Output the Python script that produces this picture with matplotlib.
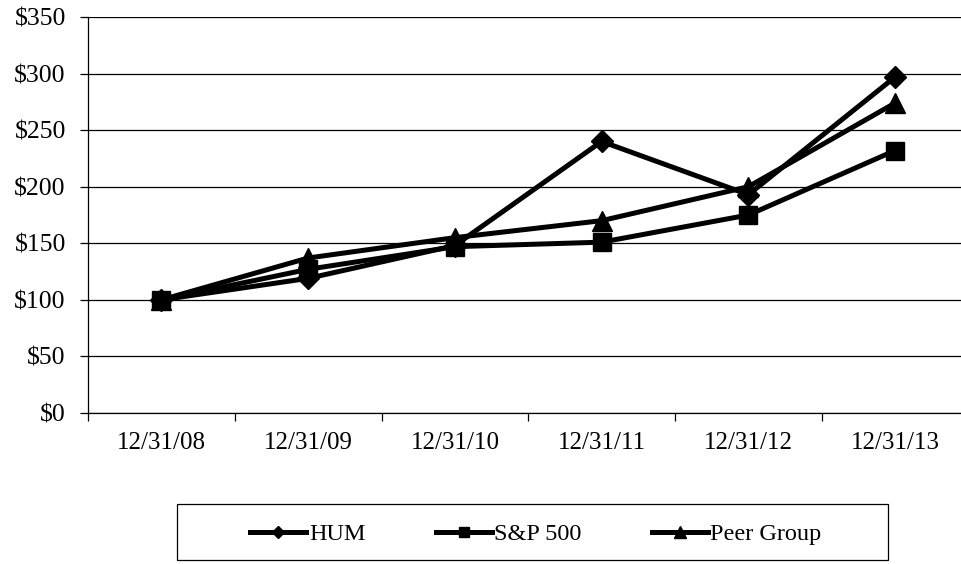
import matplotlib.pyplot as plt
import matplotlib.ticker as mticker
from matplotlib.patches import Rectangle

plt.rcParams["font.family"] = ["Liberation Serif", "DejaVu Serif"]

dates = ["12/31/08", "12/31/09", "12/31/10", "12/31/11", "12/31/12", "12/31/13"]
hum = [100, 119, 148, 240, 193, 297]
sp500 = [100, 127, 147, 151, 175, 232]
peer = [100, 137, 155, 170, 200, 274]

# name, values, marker, marker size, zorder (S&P sits on top at 12/31/08)
series = [
    ("HUM", hum, "D", 11, 3),
    ("S&P 500", sp500, "s", 13, 4),
    ("Peer Group", peer, "^", 14, 2),
]

fig = plt.figure(figsize=(9.61, 5.64), dpi=100)
ax = fig.add_axes([88 / 961, 151 / 564, 880.5 / 961, 396 / 564])

x = list(range(len(dates)))
for name, vals, mk, ms, z in series:
    ax.plot(x, vals, color="black", linewidth=3.6, marker=mk, markersize=ms,
            label=name, solid_joinstyle="miter", zorder=z)

ax.set_xlim(-0.5, len(dates) - 0.5)
ax.set_ylim(0, 350)
ax.yaxis.set_major_locator(mticker.MultipleLocator(50))
ax.yaxis.set_major_formatter(mticker.FuncFormatter(lambda v, p: f"${v:.0f}"))
ax.grid(axis="y", color="black", linewidth=0.9)
ax.set_axisbelow(True)

ax.set_xticks(x)
ax.set_xticklabels(dates)
ax.set_xticks([i - 0.5 for i in range(len(dates) + 1)], minor=True)
ax.tick_params(axis="x", which="major", length=0, pad=14, labelsize=18)
ax.tick_params(axis="x", which="minor", length=6, width=0.9, direction="out")
ax.tick_params(axis="y", length=6, width=0.9, direction="out", pad=10, labelsize=18.5)

for s in ["top", "right"]:
    ax.spines[s].set_visible(False)
ax.spines["left"].set_linewidth(0.9)
ax.spines["bottom"].set_linewidth(0.9)

# legend box below the chart
fig.patches.append(Rectangle((177 / 961, 4 / 564), 711 / 961, 56 / 564,
                             transform=fig.transFigure, fill=False,
                             edgecolor="black", linewidth=0.9))
fig.legend(loc="center", bbox_to_anchor=(536 / 961, 30 / 564), ncol=3,
           frameon=False, fontsize=17.5, markerscale=0.6, handlelength=2.3,
           handletextpad=0.1, columnspacing=2.9)

fig.savefig("out.png", dpi=100)
